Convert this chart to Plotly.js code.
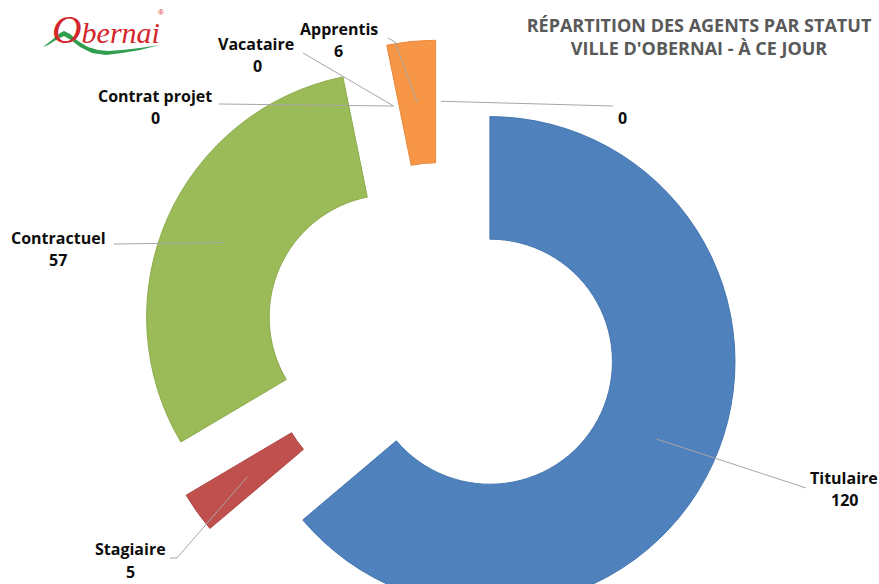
<!DOCTYPE html>
<html><head><meta charset="utf-8">
<script src="https://cdn.plot.ly/plotly-3.0.1.min.js"></script>
<style>
html,body{margin:0;padding:0;overflow:hidden;background:#fff}
#wrap{width:879px;height:584px;overflow:hidden;position:relative}
#chart{width:879px;height:640px}
</style></head>
<body><div id="wrap"><div id="chart"></div></div>
<script>
// ---- data ----
const categories = ['Titulaire', 'Stagiaire', 'Contractuel', 'Contrat projet', 'Vacataire', 'Apprentis', ''];
const values = [120, 5, 57, 0, 0, 6, 0];
const titleLines = ['RÉPARTITION DES AGENTS PAR STATUT', "VILLE D'OBERNAI - À CE JOUR"];
const logoText = 'Obernai';

// ---- styles ----
const colors = ['#4F81BD', '#C0504D', '#9BBB59', '#8064A2', '#4BACC6', '#F79646', '#2C4D75'];
const edgeColors = ['#4677b0', '#b04643', '#8cab4d', '#72588f', '#3f9ab3', '#e8883a', '#24406a'];

// ---- layout geometry (pixels) ----
const W = 879, H = 640, L = 142, T = 40, BOX = 598;
const PULL = 0.22, HOLE = 0.5;
const CX = L + BOX / 2, CY = T + BOX / 2;
const R = BOX / (2 + 2 * PULL), RIN = R * HOLE;
const px = x => (x - L) / BOX;
const py = y => 1 - (y - T) / BOX;

// label placement (pixel centres) and leader line bends
const namePos = [[844, 478], [130, 549], [58, 238], [155, 96], [256, 44], [339, 29], null];
const valuePos = [[844, 500], [130, 572], [58, 260], [155, 118], [257, 66], [338, 51], [622, 118]];
const leaderPts = [
  [[800, 486], [806, 488]],
  [[177, 558], [170, 558]],
  [[114, 244]],
  [[219, 104]],
  [[303, 53]],
  [[395, 42], [388, 38]],
  [[613, 106]]
];

// ---- tips of leader lines, from the slice angles ----
const total = values.reduce((a, b) => a + b, 0);
let cum = 0;
const tips = values.map(v => {
  const mid = (cum + v / 2) / total * 2 * Math.PI;
  cum += v;
  const d = PULL * R + (R + RIN) / 2;
  return [CX + d * Math.sin(mid), CY - d * Math.cos(mid)];
});

const shapes = [];
const annotations = [];
const labelFont = {family: 'Open Sans', size: 16, color: '#0d0d0d', weight: 'bold'};

categories.forEach((c, i) => {
  const pts = [tips[i]].concat(leaderPts[i]);
  const path = pts.map((p, k) => (k ? 'L' : 'M') + px(p[0]).toFixed(5) + ',' + py(p[1]).toFixed(5)).join(' ');
  shapes.push({type: 'path', xref: 'paper', yref: 'paper', path: path,
    line: {color: '#a6a6a6', width: 1}, layer: 'above'});
  if (c && namePos[i]) {
    annotations.push({xref: 'paper', yref: 'paper', x: px(namePos[i][0]), y: py(namePos[i][1]),
      text: c, showarrow: false, xanchor: 'center', yanchor: 'middle', font: labelFont});
  }
  annotations.push({xref: 'paper', yref: 'paper', x: px(valuePos[i][0]), y: py(valuePos[i][1]),
    text: String(values[i]), showarrow: false, xanchor: 'center', yanchor: 'middle', font: labelFont});
});

// ---- logo ----
const swoosh = [[43,47],[52,40],[60,33],[64,31],[70,34],[78,41],[88,47],[98,50],[108,51],[122,50],[140,48],[160,45],
  [140,50],[122,53],[106,55],[92,53],[80,47],[71,40],[64,36],[56,40],[48,45]];
shapes.push({type: 'path', xref: 'paper', yref: 'paper', layer: 'below',
  path: swoosh.map((p, k) => (k ? 'L' : 'M') + px(p[0]).toFixed(5) + ',' + py(p[1]).toFixed(5)).join(' ') + ' Z',
  fillcolor: '#2f9e4f', line: {width: 0}});
annotations.push({xref: 'paper', yref: 'paper', x: px(50), y: py(29), xanchor: 'left', yanchor: 'middle',
  text: "<span style='font-size:41px'>" + logoText[0] + '</span>' + logoText.slice(1), showarrow: false,
  font: {family: 'Liberation Serif', size: 30, color: '#d3252b', style: 'italic'}});
annotations.push({xref: 'paper', yref: 'paper', x: px(161), y: py(13), xanchor: 'center', yanchor: 'middle',
  text: '®', showarrow: false, font: {family: 'Liberation Sans', size: 8, color: '#d3252b'}});

const trace = {
  type: 'pie', labels: categories, values: values, sort: false, direction: 'clockwise', rotation: 0,
  hole: HOLE, pull: values.map(() => PULL),
  marker: {colors: colors, line: {color: edgeColors, width: values.map(v => v > 0 ? 1 : 0)}},
  textinfo: 'none', hoverinfo: 'none', showlegend: false,
  domain: {x: [0, 1], y: [0, 1]}
};

const layout = {
  width: W, height: H, autosize: false,
  margin: {l: L, r: W - L - BOX, t: T, b: H - T - BOX, pad: 0},
  paper_bgcolor: '#ffffff', plot_bgcolor: '#ffffff', showlegend: false,
  title: {text: titleLines.join('<br>'), x: 699 / W, xanchor: 'center', xref: 'container',
    y: 1 - 32 / H, yanchor: 'middle', yref: 'container',
    font: {family: 'Open Sans', size: 18, color: '#595959', weight: 'bold'}},
  shapes: shapes, annotations: annotations
};

Plotly.newPlot('chart', [trace], layout, {staticPlot: true, displayModeBar: false});
</script>
</body></html>
